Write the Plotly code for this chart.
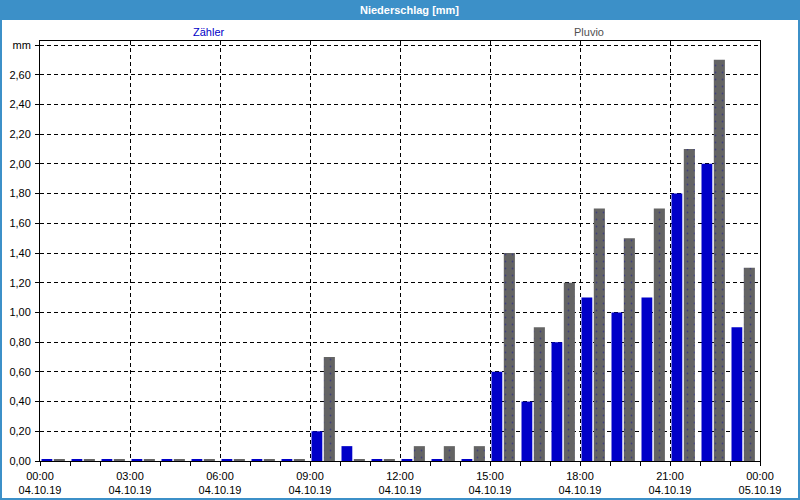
import plotly.graph_objects as go

# ---- data ----
hours = list(range(24))
zaehler = [0.01, 0.01, 0.01, 0.01, 0.01, 0.01, 0.01, 0.01, 0.01,
           0.20, 0.10, 0.01, 0.01, 0.01, 0.01,
           0.60, 0.40, 0.80, 1.10, 1.00, 1.10, 1.80, 2.00, 0.90]
pluvio = [0.01, 0.01, 0.01, 0.01, 0.01, 0.01, 0.01, 0.01, 0.01,
          0.70, 0.01, 0.01, 0.10, 0.10, 0.10,
          1.40, 0.90, 1.20, 1.70, 1.50, 1.70, 2.10, 2.70, 1.30]
x_tickvals = [0, 3, 6, 9, 12, 15, 18, 21, 24]
x_time_labels = ["00:00", "03:00", "06:00", "09:00", "12:00", "15:00", "18:00", "21:00", "00:00"]
x_date_labels = ["04.10.19"] * 8 + ["05.10.19"]
y_tickvals = [0, 0.2, 0.4, 0.6, 0.8, 1.0, 1.2, 1.4, 1.6, 1.8, 2.0, 2.2, 2.4, 2.6, 2.8]
y_ticktext = ["0,00", "0,20", "0,40", "0,60", "0,80", "1,00", "1,20", "1,40", "1,60",
              "1,80", "2,00", "2,20", "2,40", "2,60", "mm"]
series_names = ["Zähler", "Pluvio"]

W, H = 800, 500
L, R, T, B = 40, 40, 41, 39
PW, PH = W - L - R, H - T - B

def px(x):
    return (x - L) / PW

def py(y):
    return (H - B - y) / PH

BLUE = "#0000C8"
GRAY = "#646464"
BAND = "#3C90C8"
FONT = "Liberation Sans"

fig = go.Figure()
fig.add_trace(go.Bar(x=hours, y=zaehler, offset=0.05, width=0.36,
                     marker=dict(color=BLUE, line=dict(width=0)), name=series_names[0]))
fig.add_trace(go.Bar(x=hours, y=pluvio, offset=0.46, width=0.37,
                     marker=dict(color=GRAY, line=dict(width=0),
                                 pattern=dict(shape=".", fillmode="replace", bgcolor=GRAY,
                                              fgcolor="#40407A", size=7, solidity=0.05)),
                     name=series_names[1]))
fig.add_trace(go.Scatter(x=[], y=[], xaxis="x2", showlegend=False))

grid = dict(showgrid=True, gridcolor="black", gridwidth=1, griddash="4px,3px")

fig.update_layout(
    width=W, height=H,
    margin=dict(l=L, r=R, t=T, b=B, pad=0, autoexpand=False),
    paper_bgcolor="white", plot_bgcolor="white",
    barmode="overlay", showlegend=False,
    font=dict(family=FONT, size=11, color="black"),
    xaxis=dict(range=[0, 24], tickmode="array", tickvals=x_tickvals, ticktext=x_time_labels,
               ticks="outside", ticklen=4, tickcolor="black", automargin=False,
               minor=dict(dtick=1, tick0=0, ticks="outside", ticklen=4, tickcolor="black", showgrid=False),
               showline=True, linecolor="black", linewidth=1, mirror=True,
               zeroline=False, ticklabelstandoff=1, **grid),
    xaxis2=dict(range=[0, 24], overlaying="x", anchor="y", side="bottom", automargin=False,
                tickmode="array", tickvals=x_tickvals, ticktext=x_date_labels,
                ticks="", showgrid=False, showline=False, zeroline=False,
                ticklabelstandoff=21),
    yaxis=dict(range=[0, 2.8 + 4 / (416 / 2.8)], tickmode="array", tickvals=y_tickvals,
               ticktext=y_ticktext, ticks="outside", ticklen=4, tickcolor="black",
               automargin=False,
               showline=True, linecolor="black", linewidth=1, mirror=True,
               zeroline=False, ticklabelstandoff=2, **grid),
    shapes=[
        dict(type="rect", xref="paper", yref="paper", x0=px(0), x1=px(W), y0=py(20), y1=py(0),
             fillcolor=BAND, line=dict(width=0), layer="above"),
        dict(type="rect", xref="paper", yref="paper", x0=px(1), x1=px(W - 1), y0=py(H - 1), y1=py(1),
             fillcolor="rgba(0,0,0,0)", line=dict(color=BAND, width=2), layer="above"),
    ],
    annotations=[
        dict(text="<b>Niederschlag [mm]</b>", xref="paper", yref="paper", x=px(410), y=py(10),
             xanchor="center", yanchor="middle", showarrow=False,
             font=dict(family=FONT, size=11, color="white")),
        dict(text=series_names[0], xref="paper", yref="paper", x=px(209), y=py(32),
             xanchor="center", yanchor="middle", showarrow=False,
             font=dict(family=FONT, size=11, color=BLUE)),
        dict(text=series_names[1], xref="paper", yref="paper", x=px(589), y=py(32),
             xanchor="center", yanchor="middle", showarrow=False,
             font=dict(family=FONT, size=11, color="#505050")),
    ],
)

fig.write_html("out.html")
